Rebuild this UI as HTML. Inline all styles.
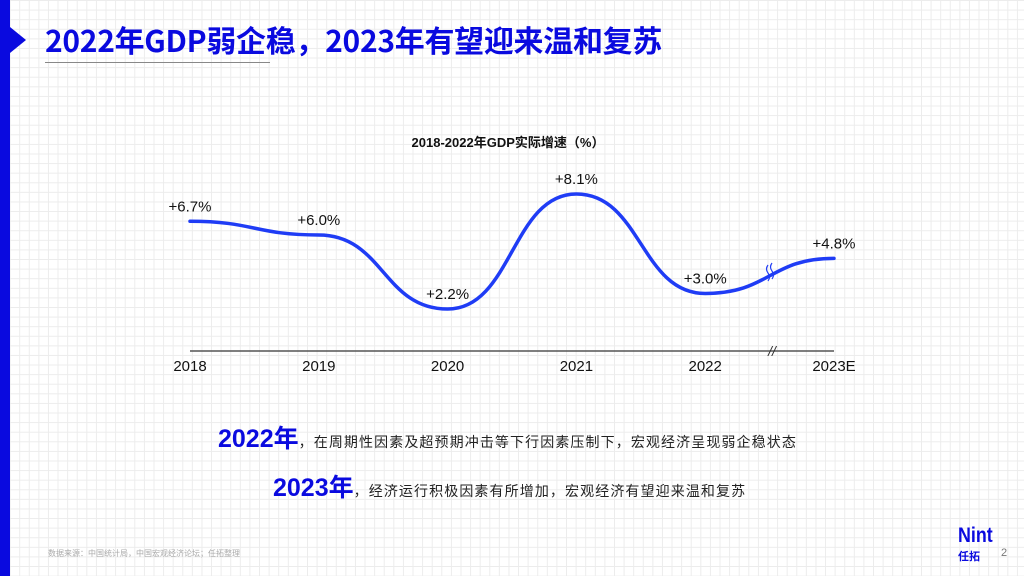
<!DOCTYPE html>
<html><head><meta charset="utf-8">
<style>
html,body{margin:0;padding:0}
body{width:1024px;height:576px;position:relative;overflow:hidden;background-color:#fff;
background-image:linear-gradient(#ececec 1px,transparent 1px),linear-gradient(90deg,#ececec 1px,transparent 1px);
background-size:9.6px 9.6px;font-family:"Liberation Sans","Noto Sans CJK SC",sans-serif}
.abs{position:absolute;white-space:nowrap}
</style></head><body>
<div class="abs" style="left:0;top:0;width:10px;height:576px;background:#0a0adf"></div>
<div class="abs" style="left:10px;top:27px;width:0;height:0;border-top:13px solid transparent;border-bottom:13px solid transparent;border-left:16px solid #0a0adf"></div>
<div class="abs" style="left:45px;top:20px;font-size:30px;font-weight:bold;color:#0a0adf;font-family:'Noto Sans CJK SC','Liberation Sans',sans-serif;line-height:38px;letter-spacing:-0.3px">2022年GDP弱企稳，2023年有望迎来温和复苏</div>
<div class="abs" style="left:45px;top:62px;width:225px;height:1px;background:#888"></div>

<svg class="abs" style="left:0;top:0" width="1024" height="576">
<text x="508" y="147" text-anchor="middle" font-size="13" font-weight="bold" fill="#111" font-family="Liberation Sans,Noto Sans CJK SC,sans-serif">2018-2022年GDP实际增速（%）</text>
<g id="g"></g>
</svg>
<script>
const categories=["2018","2019","2020","2021","2022","2023E"];
const values=[6.7,6.0,2.2,8.1,3.0,4.8];
const labels=["+6.7%","+6.0%","+2.2%","+8.1%","+3.0%","+4.8%"];
const NS="http://www.w3.org/2000/svg";
const g=document.getElementById('g');
function xs(i){return 190+i*128.8;}
function ys(v){return 194+(8.1-v)*19.5;}
function mk(t,a){const e=document.createElementNS(NS,t);for(const k in a)e.setAttribute(k,a[k]);g.appendChild(e);return e;}
const ax=mk('line',{x1:190,y1:351,x2:834,y2:351,stroke:'#555','stroke-width':1.5});


const br=mk('text',{x:772,y:356,'text-anchor':'middle','font-size':14,fill:'#333','font-style':'italic'});
br.textContent='//';


let d='M'+xs(0)+','+ys(values[0]);
for(let i=1;i<values.length;i++){const x0=xs(i-1),x1=xs(i),y0=ys(values[i-1]),y1=ys(values[i]);const m=(x1-x0)/2;d+=' C'+(x0+m)+','+y0+' '+(x1-m)+','+y1+' '+x1+','+y1;}
const p=mk('path',{d:d,fill:'none',stroke:'#1f3cf5','stroke-width':3.5,'stroke-linecap':'round'});


const lb=mk('path',{d:'M768,265 q-3,4 0,8 q3,4 0,8 M772,263 q-3,4 0,8 q3,4 0,8',fill:'none',stroke:'#1f3cf5','stroke-width':1.2});


categories.forEach((c,i)=>{
 const t=mk('text',{x:xs(i),y:371,'text-anchor':'middle','font-size':15,fill:'#111'});
 t.textContent=c;
 
 
 const v=mk('text',{x:xs(i),y:ys(values[i])-10,'text-anchor':'middle','font-size':15,fill:'#111'});
 v.textContent=labels[i];
 
 
});
</script>

<div class="abs" style="left:218px;top:424px;line-height:30px"><span style="font-size:25px;font-weight:bold;color:#0a0adf">2022年</span><span style="font-size:14px;letter-spacing:1.1px;color:#222">，在周期性因素及超预期冲击等下行因素压制下，宏观经济呈现弱企稳状态</span></div>
<div class="abs" style="left:273px;top:473px;line-height:30px"><span style="font-size:25px;font-weight:bold;color:#0a0adf">2023年</span><span style="font-size:14px;letter-spacing:1.1px;color:#222">，经济运行积极因素有所增加，宏观经济有望迎来温和复苏</span></div>
<div class="abs" style="left:48px;top:548px;font-size:8px;color:#aaa">数据来源：中国统计局，中国宏观经济论坛；任拓整理</div>
<div class="abs" style="left:958px;top:525px;font-size:21px;font-weight:bold;color:#0a0adf;line-height:22px;transform:scaleX(0.85);transform-origin:left">Nint</div>
<div class="abs" style="left:958px;top:548px;font-size:11px;font-weight:bold;color:#0a0adf">任拓</div>
<div class="abs" style="left:1001px;top:547px;font-size:11px;color:#777">2</div>
</body></html>
